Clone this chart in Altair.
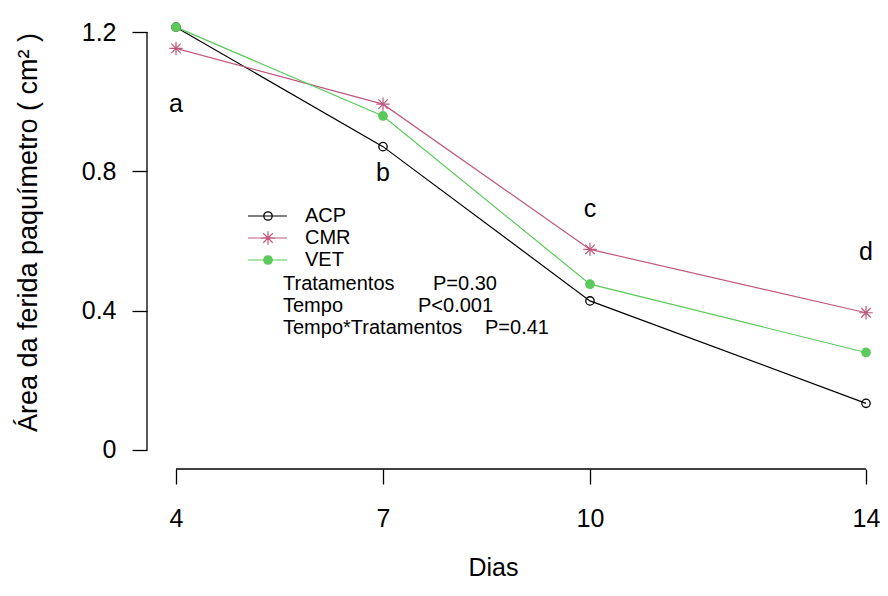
import altair as alt
import pandas as pd

# ---- data ----
dias = [4, 7, 10, 14]
acp = [1.214, 0.871, 0.428, 0.134]
cmr = [1.153, 0.993, 0.576, 0.394]
vet = [1.214, 0.959, 0.476, 0.280]
series_names = ["ACP", "CMR", "VET"]
letters = ["a", "b", "c", "d"]
letter_y = [0.993, 0.795, 0.692, 0.568]
x_ticks = [4, 7, 10, 14]
y_ticks = [0, 0.4, 0.8, 1.2]
stats_labels = ["Tratamentos", "Tempo", "Tempo*Tratamentos"]
stats_p = ["P=0.30", "P<0.001", "P=0.41"]

colors = ["#000000", "#c0587e", "#5bc95b"]
FONT = "Liberation Sans"
ASTERISK = "M-1,0L1,0M0,-1L0,1M-0.71,-0.71L0.71,0.71M-0.71,0.71L0.71,-0.71"

W, H = 731, 459
XDOM = [3.5797, 14.174]
YDOM = [-0.0546, 1.2633]

rows = []
for name, vals in zip(series_names, [acp, cmr, vet]):
    for d, v in zip(dias, vals):
        rows.append({"dia": d, "area": v, "trat": name})
df = pd.DataFrame(rows)

xs = alt.Scale(domain=XDOM, nice=False, zero=False)
ys = alt.Scale(domain=YDOM, nice=False, zero=False)
cs = alt.Scale(domain=series_names, range=colors)

x_axis = alt.Axis(values=x_ticks, format="d", domain=False, grid=False, tickSize=15,
                  tickColor="black", tickWidth=1.3, labelPadding=22, labelFontSize=25,
                  labelFont=FONT, labelColor="black", labelFlush=False, title="Dias",
                  titleFont=FONT, titleFontSize=25, titleFontWeight="normal",
                  titleColor="black", titleX=346, titleY=106, titleBaseline="alphabetic")
y_axis = alt.Axis(values=y_ticks, domain=False, grid=False, tickSize=15, tickColor="black",
                  tickWidth=1.3, labelPadding=16, labelFontSize=25, labelFont=FONT,
                  labelColor="black", labelFlush=False,
                  labelExpr="datum.value == 0 ? '0' : format(datum.value, '.1f')",
                  title="Área da ferida paquímetro ( cm² )", titleFont=FONT,
                  titleFontSize=27, titleFontWeight="normal", titleColor="black",
                  titleX=-119, titleY=222, titleBaseline="middle")

base = alt.Chart(df)

lines = base.mark_line(strokeWidth=1.2).encode(
    x=alt.X("dia:Q", scale=xs, axis=x_axis),
    y=alt.Y("area:Q", scale=ys, axis=y_axis),
    color=alt.Color("trat:N", scale=cs, legend=None),
    order="dia:Q",
)

pts_acp = base.transform_filter(alt.datum.trat == "ACP").mark_point(
    shape="circle", filled=False, size=70, stroke="black", strokeWidth=1.3, opacity=1
).encode(x=alt.X("dia:Q", scale=xs), y=alt.Y("area:Q", scale=ys))
pts_cmr = base.transform_filter(alt.datum.trat == "CMR").mark_point(
    shape=ASTERISK, filled=False, size=180, stroke=colors[1], strokeWidth=1.2, opacity=1
).encode(x=alt.X("dia:Q", scale=xs), y=alt.Y("area:Q", scale=ys))
pts_vet = base.transform_filter(alt.datum.trat == "VET").mark_point(
    shape="circle", filled=True, size=95, fill=colors[2], opacity=1
).encode(x=alt.X("dia:Q", scale=xs), y=alt.Y("area:Q", scale=ys))

letters_df = pd.DataFrame({"dia": dias, "y": letter_y, "t": letters})
letter_layer = alt.Chart(letters_df).mark_text(
    fontSize=25, font=FONT, color="black", align="center", baseline="middle"
).encode(x=alt.X("dia:Q", scale=xs), y=alt.Y("y:Q", scale=ys), text="t:N")

# axis lines spanning first to last tick, as in base R
axis_df = pd.DataFrame({"x0": [x_ticks[0]], "x1": [x_ticks[-1]], "y0": [y_ticks[0]], "y1": [y_ticks[-1]]})
xline = alt.Chart(axis_df).mark_rule(color="black", strokeWidth=1.3).encode(
    x=alt.X("x0:Q", scale=xs), x2="x1:Q", y=alt.value(H))
yline = alt.Chart(axis_df).mark_rule(color="black", strokeWidth=1.3).encode(
    y=alt.Y("y0:Q", scale=ys), y2="y1:Q", x=alt.value(0))

# manual legend (plot-area pixel layout)
leg_y = [206, 228, 250]
leg_layers = []
for i, name in enumerate(series_names):
    one = pd.DataFrame({"t": [name]})
    leg_layers.append(alt.Chart(one).mark_rule(color=colors[i], strokeWidth=1.2).encode(
        x=alt.value(101), x2=alt.value(140), y=alt.value(leg_y[i])))
    if name == "ACP":
        m = alt.Chart(one).mark_point(shape="circle", filled=False, size=70, stroke="black",
                                      strokeWidth=1.3, opacity=1)
    elif name == "CMR":
        m = alt.Chart(one).mark_point(shape=ASTERISK, filled=False, size=180, stroke=colors[1],
                                      strokeWidth=1.2, opacity=1)
    else:
        m = alt.Chart(one).mark_point(shape="circle", filled=True, size=95, fill=colors[2], opacity=1)
    leg_layers.append(m.encode(x=alt.value(121), y=alt.value(leg_y[i])))
    leg_layers.append(alt.Chart(one).mark_text(fontSize=20, font=FONT, color="black", align="left",
                                               baseline="middle").encode(
        x=alt.value(158), y=alt.value(leg_y[i]), text="t:N"))

stat_y = [274, 296, 318]
stat_px = [286, 271, 338]
for i in range(3):
    one = pd.DataFrame({"a": [stats_labels[i]], "p": [stats_p[i]]})
    leg_layers.append(alt.Chart(one).mark_text(fontSize=20, font=FONT, color="black", align="left",
                                               baseline="middle").encode(
        x=alt.value(136), y=alt.value(stat_y[i]), text="a:N"))
    leg_layers.append(alt.Chart(one).mark_text(fontSize=20, font=FONT, color="black", align="left",
                                               baseline="middle").encode(
        x=alt.value(stat_px[i]), y=alt.value(stat_y[i]), text="p:N"))

chart = alt.layer(
    lines, pts_acp, pts_cmr, pts_vet, letter_layer, xline, yline, *leg_layers
).properties(
    width=W, height=H,
    autosize=alt.AutoSizeParams(type="none"),
    padding={"left": 139, "top": 2, "right": 2, "bottom": 113},
    background="white",
).configure_view(stroke=None)

chart.save("out.html", embed_options={"renderer": "svg", "actions": False})
